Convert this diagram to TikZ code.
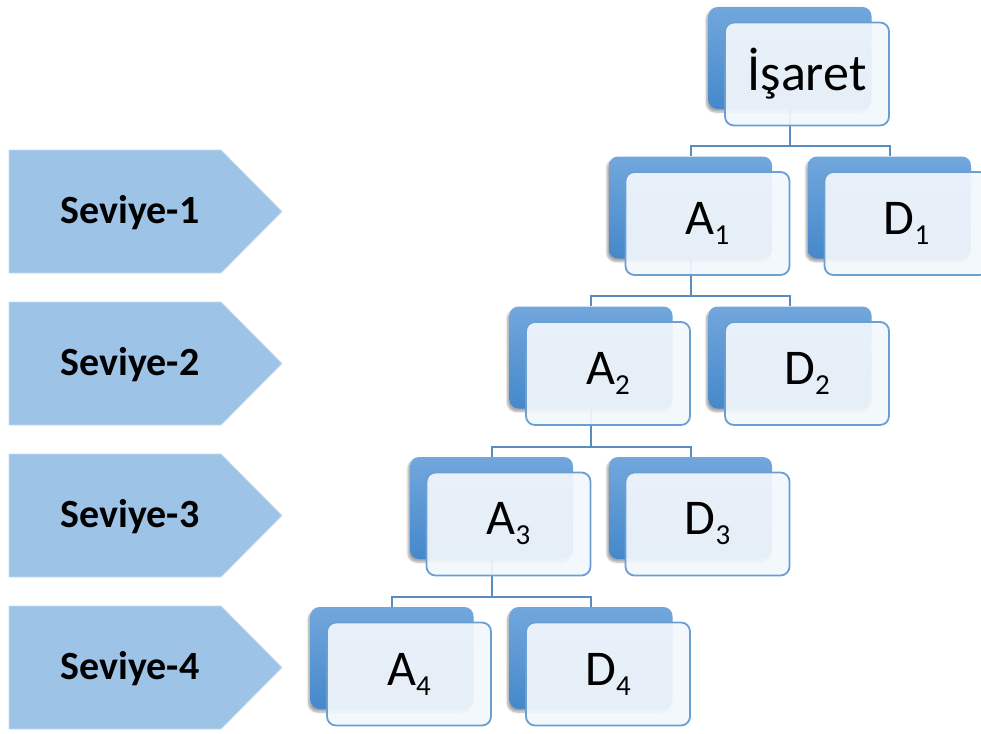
\documentclass[tikz,border=0pt]{standalone}
\usepackage{fontspec}
\setmainfont{Carlito}
\usetikzlibrary{shadows.blur,calc,backgrounds}
\definecolor{backtop}{HTML}{72A7DD}
\definecolor{backbot}{HTML}{4588CA}
\definecolor{frontfill}{HTML}{F2F7FC}
\definecolor{frontline}{HTML}{6A9FD4}
\definecolor{connc}{HTML}{5A8CC2}
\definecolor{arrowfill}{HTML}{9DC3E6}
\definecolor{arrowline}{HTML}{C5DCF0}
\newcommand\lblsub[2]{#1\raisebox{-0.2em}{\fontsize{29}{30}\selectfont #2}}
\begin{document}
\begin{tikzpicture}[x=1pt,y=-1pt,
 backbox/.style={minimum width=163pt, minimum height=102pt, rounded corners=9pt, top color=backtop, bottom color=backbot, draw=none, inner sep=0pt,
   blur shadow={shadow xshift=-2pt, shadow yshift=-3pt, shadow blur steps=6, shadow opacity=35}},
 frontbox/.style={minimum width=164pt, minimum height=103pt, rounded corners=9pt, fill=frontfill, fill opacity=0.93, text opacity=1,
   draw=frontline, line width=1.8pt, inner sep=0pt, font=\fontsize{50}{60}\selectfont},
 conn/.style={draw=connc, line width=2pt},
 levelarrow/.style={fill=arrowfill, draw=arrowline, line width=0.8pt},
 leveltext/.style={anchor=base, font=\fontsize{40}{42}\selectfont\bfseries, inner sep=0pt},
]
\useasboundingbox (0,0) rectangle (981,733);

% level arrows
\foreach \k in {0,1,2,3}{
  \pgfmathsetmacro{\t}{150+152*\k}
  \draw[levelarrow] (9,\t) -- (221,\t) -- (282,\t+61.5) -- (221,\t+123) -- (9,\t+123) -- cycle;
}
\node[leveltext] (s1) at (130,223.5) {Seviye-1};
\node[leveltext] (s2) at (130,375.5) {Seviye-2};
\node[leveltext] (s3) at (130,527.5) {Seviye-3};
\node[leveltext] (s4) at (130,679.5) {Seviye-4};

% top
\node[backbox] (Tb) at (790,58) {};
\node[frontbox] (Tf) at (807,74) {\fontsize{52}{60}\selectfont İşaret};
% level 1
\node[backbox] (A1b) at (690.5,207.5) {};
\node[frontbox] (A1f) at (707.5,223.5) {\lblsub{A}{1}};
\node[backbox] (D1b) at (889.5,207.5) {};
\node[frontbox] (D1f) at (906.5,223.5) {\lblsub{D}{1}};
% level 2
\node[backbox] (A2b) at (591,357.5) {};
\node[frontbox] (A2f) at (608,373.5) {\lblsub{A}{2}};
\node[backbox] (D2b) at (790,357.5) {};
\node[frontbox] (D2f) at (807,373.5) {\lblsub{D}{2}};
% level 3
\node[backbox] (A3b) at (491.5,508) {};
\node[frontbox] (A3f) at (508.5,524) {\lblsub{A}{3}};
\node[backbox] (D3b) at (690.5,508) {};
\node[frontbox] (D3f) at (707.5,524) {\lblsub{D}{3}};
% level 4
\node[backbox] (A4b) at (392,658) {};
\node[frontbox] (A4f) at (409,674) {\lblsub{A}{4}};
\node[backbox] (D4b) at (591,658) {};
\node[frontbox] (D4f) at (608,674) {\lblsub{D}{4}};

\begin{scope}[on background layer]
\draw[conn] (A1b.north) -- ++(0,-10) -| (Tb.south);
\draw[conn] (D1b.north) -- ++(0,-10) -| (Tb.south);
\draw[conn] (A2b.north) -- ++(0,-10) -| (A1b.south);
\draw[conn] (D2b.north) -- ++(0,-10) -| (A1b.south);
\draw[conn] (A3b.north) -- ++(0,-10) -| (A2b.south);
\draw[conn] (D3b.north) -- ++(0,-10) -| (A2b.south);
\draw[conn] (A4b.north) -- ++(0,-10) -| (A3b.south);
\draw[conn] (D4b.north) -- ++(0,-10) -| (A3b.south);
\end{scope}
\end{tikzpicture}
\end{document}
